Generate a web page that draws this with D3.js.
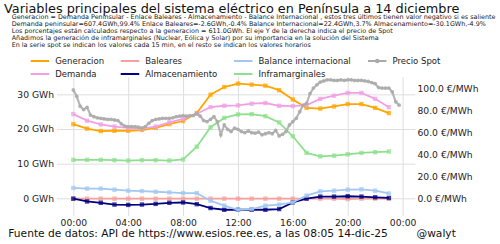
<!DOCTYPE html>
<html>
<head>
<meta charset="utf-8">
<script src="https://cdn.jsdelivr.net/npm/d3@7"></script>
<style>
  body { margin: 0; background: #fff; }
  svg { display: block; font-family: "DejaVu Sans", sans-serif; }
</style>
</head>
<body>
<svg id="chart" width="500" height="244"></svg>
<script>
// datos horarios (GWh)
const horas = [0,1,2,3,4,5,6,7,8,9,10,11,12,13,14,15,16,17,18,19,20,21,22,23];
const generacion = [21.4,20.1,19.4,19.5,19.5,19.7,20.3,21.4,22.3,24.6,29.9,32.1,33.1,32.8,32.5,31.2,28.5,26.1,25.9,26.5,27.2,27.2,26.1,24.6];
const demanda = [24.3,22.4,21.3,20.7,20.3,20.1,20.7,21.9,22.9,24.4,26.3,26.7,26.8,27.3,27.5,26.7,26.6,26.9,28.7,29.6,30.4,30.4,28.7,26.3];
const baleares = [-0.1,-0.1,-0.1,-0.1,-0.1,-0.1,-0.1,-0.1,-0.1,-0.1,-0.1,-0.1,-0.1,-0.1,-0.1,-0.1,-0.1,-0.1,-0.1,-0.1,-0.2,-0.1,-0.1,-0.1];
const almacenamiento = [-0.1,-0.9,-1.3,-1.8,-1.9,-1.8,-1.6,-1.3,-1.2,-1.7,-2.8,-3.3,-3.3,-3.3,-3.3,-3.1,-1.2,-0.1,0.5,0.5,0.6,0.5,0.3,0.1];
const balance = [3.0,2.8,2.8,2.5,2.2,2.1,1.9,1.7,1.5,1.5,-0.7,-2.1,-3.3,-3.1,-2.1,-1.8,-1.2,0.8,2.0,2.2,2.5,2.6,2.2,1.4];
const inframarginales = [11.1,11.1,11.1,11.0,10.9,11.0,11.0,10.9,11.2,14.9,20.5,23.2,24.2,24.3,23.7,21.9,17.9,13.1,12.1,12.3,12.7,13.1,13.3,13.5];

// precio spot cada 15 min (€/MWh)
const spot = [98.8,93,84,81,83,76,74.5,73.5,73,72.5,72,72,71.5,71,68,66,
              65.5,65.5,65.5,65,64,65.5,68.5,71,72,72.5,73,73,73,73.5,74.5,75,
              75.5,75,75.5,75.5,77.5,75,71,70,72,74.5,70,58,67,63,
              61,64,63,61,60,61.5,60,59.5,60.5,58,59,60,59,62,57,58.5,
              61,67,70,73,79,85,86.5,95.5,100.5,103.5,106,107,108,108,107.5,107.5,
              108,107.5,108,108,107.5,107.5,107.5,107,106.5,105.5,104.5,101,100.5,100.5,100.5,97,88,85];

const ticksGWh = [0, 10, 20, 30];
const ticksPrecio = [0, 20, 40, 60, 80, 100];

const titulo = "Variables principales del sistema eléctrico en Península a 14 diciembre";
const notas = [
  "Generacion = Demanda Peninsular - Enlace Baleares - Almacenamiento - Balance Internacional , estos tres últimos tienen valor negativo si es saliente",
  "Demanda peninsular=607.4GWh,99.4% Enlace Baleares=-2.6GWh,-0.4% Balance Internacional=22.4GWh,3.7% Almacenamiento=-30.1GWh,-4.9%",
  "Los porcentajes están calculados respecto a la generacion = 611.0GWh. El eje Y de la derecha indica el precio de Spot",
  "Añadimos la generación de inframarginales (Nuclear, Eólica y Solar) por su importancia en la solución del Sistema",
  "En la serie spot se indican los valores cada 15 min, en el resto se indican los valores horarios"
];
const fuente = "Fuente de datos: API de https://www.esios.ree.es, a las 08:05 14-dic-25";

const series = [
  {name: "Generacion", values: generacion, color: "#ffa500", col: 0, row: 0},
  {name: "Demanda", values: demanda, color: "#f2a0e6", col: 0, row: 1},
  {name: "Baleares", values: baleares, color: "#f7a09c", col: 1, row: 0},
  {name: "Almacenamiento", values: almacenamiento, color: "#000080", col: 1, row: 1},
  {name: "Balance internacional", values: balance, color: "#a2c8f2", col: 2, row: 0},
  {name: "Inframarginales", values: inframarginales, color: "#8ee08e", col: 2, row: 1}
];

const svg = d3.select("#chart");
const pLeft = 57, pRight = 415.5, pTop = 77, pBottom = 216;

const t0 = new Date(2025, 11, 14, 0, 0);
const hr = h => new Date(t0.getTime() + h * 3600000);

const x = d3.scaleTime().domain([hr(-1.19), hr(24.94)]).range([pLeft, pRight]);
const yL = d3.scaleLinear().domain([-5.1, 35]).range([pBottom, pTop]);
const yR = d3.scaleLinear().domain([-15.8, 110.6]).range([pBottom, pTop]);

function fit(sel, w) {
  const l = sel.node().getComputedTextLength();
  const fs = parseFloat(sel.attr("font-size"));
  sel.attr("font-size", fs * w / l);
  return fs * w / l;
}

// ejes
const gx = svg.append("g")
  .attr("transform", `translate(0,${pBottom})`)
  .call(d3.axisBottom(x)
    .tickValues([0, 4, 8, 12, 16, 20, 24].map(hr))
    .tickFormat(d3.timeFormat("%H:%M"))
    .tickSize(-(pBottom - pTop))
    .tickPadding(3));

const gl = svg.append("g")
  .attr("transform", `translate(${pLeft},0)`)
  .call(d3.axisLeft(yL)
    .tickValues(ticksGWh)
    .tickFormat(d => d + " GWh")
    .tickSize(-(pRight - pLeft))
    .tickPadding(3));

const gr = svg.append("g")
  .attr("transform", `translate(${pRight},0)`)
  .call(d3.axisRight(yR)
    .tickValues(ticksPrecio)
    .tickFormat(d => d.toFixed(1) + " €/MWh")
    .tickSize(0)
    .tickPadding(2));

[gx, gl, gr].forEach(g => {
  g.select(".domain").remove();
  g.selectAll(".tick line").attr("stroke", "#dedede").attr("stroke-width", 1);
  g.selectAll(".tick text")
    .attr("fill", "#222")
    .attr("font-size", 9.2)
    .attr("font-family", "DejaVu Sans");
});

// series horarias
series.forEach(s => {
  const line = d3.line()
    .x((d, i) => x(hr(horas[i])))
    .y(d => yL(d));
  svg.append("path")
    .datum(s.values)
    .attr("fill", "none")
    .attr("stroke", s.color)
    .attr("stroke-width", 1.8)
    .attr("d", line);
  svg.append("g").selectAll("rect")
    .data(s.values)
    .join("rect")
    .attr("x", (d, i) => x(hr(horas[i])) - 2.2)
    .attr("y", d => yL(d) - 2.2)
    .attr("width", 4.4)
    .attr("height", 4.4)
    .attr("fill", s.color)
    .attr("fill-opacity", 0.75);
});

// precio spot
const spotLine = d3.line()
  .x((d, i) => x(hr(i / 4)))
  .y(d => yR(d));
svg.append("path")
  .datum(spot)
  .attr("fill", "none")
  .attr("stroke", "#aaaaaa")
  .attr("stroke-opacity", 0.85)
  .attr("stroke-width", 2.2)
  .attr("d", spotLine);
svg.append("g").selectAll("circle")
  .data(spot)
  .join("circle")
  .attr("cx", (d, i) => x(hr(i / 4)))
  .attr("cy", d => yR(d))
  .attr("r", 1.9)
  .attr("fill", "#aaaaaa")
  .attr("fill-opacity", 0.85);

// leyenda
const legX = [30.7, 120.7, 234, 368];
const legY = [61, 74];
const legItems = series.concat([{name: "Precio Spot", color: "#aaaaaa", col: 3, row: 0, spot: true}]);
const leg = svg.append("g");
let legFs = 9;
legItems.forEach((s, k) => {
  const x0 = legX[s.col], y0 = legY[s.row];
  leg.append("line")
    .attr("x1", x0).attr("x2", x0 + 18.5)
    .attr("y1", y0).attr("y2", y0)
    .attr("stroke", s.color).attr("stroke-width", 2);
  if (s.spot) {
    leg.append("circle").attr("cx", x0 + 9.25).attr("cy", y0).attr("r", 2.2).attr("fill", s.color);
  }
  const t = leg.append("text")
    .attr("x", x0 + 24.5).attr("y", y0 + 3.2)
    .attr("font-size", legFs).attr("fill", "#222")
    .text(s.name);
  if (k === 0) legFs = fit(t, 49);
});

// textos
const tt = svg.append("text").attr("x", 4).attr("y", 13.2)
  .attr("font-size", 14).attr("fill", "#111").text(titulo);
fit(tt, 456);

let notaFs = 7;
notas.forEach((n, i) => {
  const t = svg.append("text").attr("x", 11.7).attr("y", 18.6 + i * 7.1)
    .attr("font-size", notaFs).attr("fill", "#222").text(n);
  if (i === 0) notaFs = fit(t, 485);
});

const ft = svg.append("text").attr("x", 8.3).attr("y", 237.3)
  .attr("font-size", 10).attr("fill", "#111").text(fuente);
const ffs = fit(ft, 380);
svg.append("text").attr("x", 416.5).attr("y", 237.3)
  .attr("font-size", ffs).attr("fill", "#111").text("@walyt");
</script>
</body>
</html>
